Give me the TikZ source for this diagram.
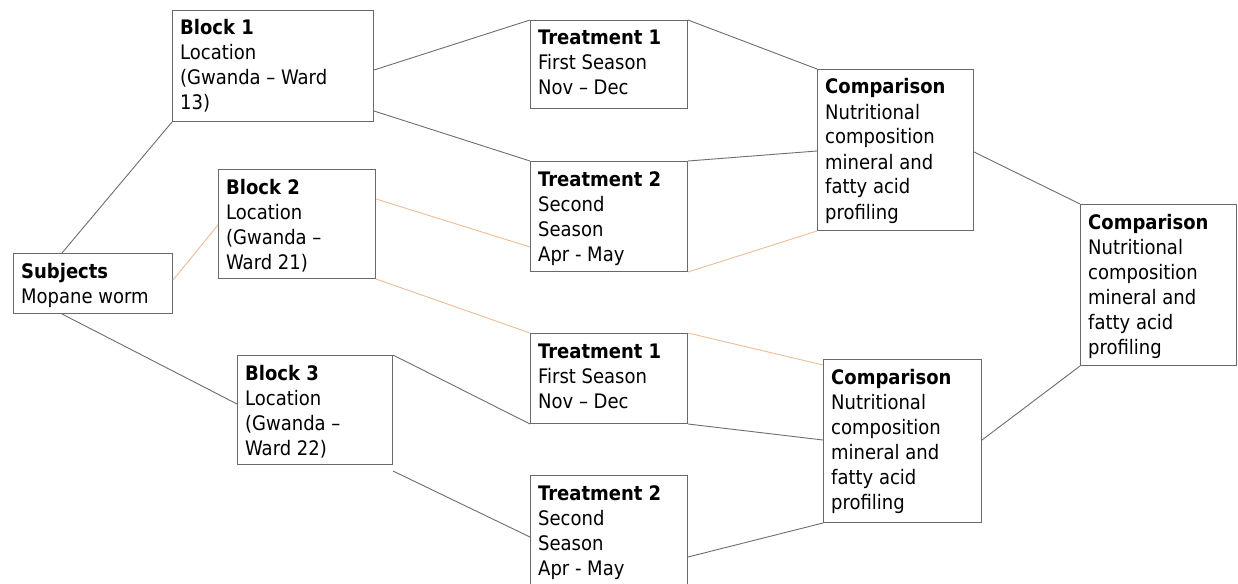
\documentclass[tikz,border=0pt]{standalone}
\usepackage{fontspec}
\setmainfont{DejaVu Sans Condensed}
\usetikzlibrary{calc}

\definecolor{boxgray}{RGB}{105,105,105}
\definecolor{linkgray}{RGB}{110,110,110}
\definecolor{linkorange}{RGB}{238,188,152}

\tikzset{
  box/.style={draw=boxgray, line width=1pt, anchor=north west, inner sep=0pt},
  boxtext/.style={anchor=base west, inner sep=0pt,
    font=\fontsize{20}{25}\selectfont},
  link/.style={draw=linkgray, line width=0.9pt},
  orangelink/.style={draw=linkorange, line width=0.9pt},
}

% name, left, top, right, bottom, lines of text
\newcommand\flowbox[6]{%
  \node[box, minimum width={(#4-#2)*1pt}, minimum height={(#5-#3)*1pt}] (#1) at (#2,#3) {};
  \node[boxtext] (#1-text) at ([xshift=8pt,yshift=-25pt]#1.north west)
    {\begin{tabular}[t]{@{}l@{}}#6\end{tabular}};%
}

\begin{document}
\begin{tikzpicture}[x=1pt, y=-1pt]
  \useasboundingbox[fill=white] (0,0) rectangle (1238,583);

  % boxes
  \flowbox{subj}{13}{253}{172}{313}{\textbf{Subjects}\\Mopane worm}
  \flowbox{b1}{172}{10}{373}{121}{\textbf{Block 1}\\Location\\(Gwanda – Ward\\13)}
  \flowbox{b2}{218}{169}{375}{278}{\textbf{Block 2}\\Location\\(Gwanda –\\Ward 21)}
  \flowbox{b3}{237}{355}{392}{464}{\textbf{Block 3}\\Location\\(Gwanda –\\Ward 22)}

  \flowbox{t1a}{530}{20}{687}{108}{\textbf{Treatment 1}\\First Season\\Nov – Dec}
  \flowbox{t2a}{530}{161}{687}{271}{\textbf{Treatment 2}\\Second\\Season\\Apr - May}
  \flowbox{t1b}{530}{333}{687}{423}{\textbf{Treatment 1}\\First Season\\Nov – Dec}
  \flowbox{t2b}{530}{475}{687}{586}{\textbf{Treatment 2}\\Second\\Season\\Apr - May}

  \flowbox{c1}{817}{69}{973}{230}{\textbf{Comparison}\\Nutritional\\composition\\mineral and\\fatty acid\\profiling}
  \flowbox{c2}{823}{359}{981}{522}{\textbf{Comparison}\\Nutritional\\composition\\mineral and\\fatty acid\\profiling}
  \flowbox{c3}{1080}{204}{1236}{365}{\textbf{Comparison}\\Nutritional\\composition\\mineral and\\fatty acid\\profiling}

  % subjects to blocks
  \draw[link] ([xshift=49pt]subj.north west) -- (b1.south west);
  \draw[orangelink] ([yshift=-27pt]subj.north east) -- ([yshift=-56pt]b2.north west);
  \draw[link] ([xshift=49pt]subj.south west) -- ([yshift=-49pt]b3.north west);

  % blocks to treatments
  \draw[link] ([yshift=-60pt]b1.north east) -- (t1a.north west);
  \draw[link] ([yshift=11pt]b1.south east) -- (t2a.north west);
  \draw[orangelink] ([yshift=-30pt]b2.north east) -- ([yshift=-86pt]t2a.north west);
  \draw[orangelink] (b2.south east) -- (t1b.north west);
  \draw[link] (b3.north east) -- (t1b.south west);
  \draw[link] ([yshift=-6pt]b3.south east) -- ([yshift=-62pt]t2b.north west);

  % treatments to comparisons
  \draw[link] (t1a.north east) -- (c1.north west);
  \draw[link] (t2a.north east) -- ([yshift=-82pt]c1.north west);
  \draw[orangelink] (t2a.south east) -- (c1.south west);
  \draw[orangelink] (t1b.north east) -- ([yshift=-6pt]c2.north west);
  \draw[link] (t1b.south east) -- ([yshift=-81pt]c2.north west);
  \draw[link] ([yshift=-82pt]t2b.north east) -- (c2.south west);

  % comparisons to the overall comparison
  \draw[link] ([yshift=-83pt]c1.north east) -- (c3.north west);
  \draw[link] ([yshift=-81pt]c2.north east) -- (c3.south west);
\end{tikzpicture}
\end{document}
